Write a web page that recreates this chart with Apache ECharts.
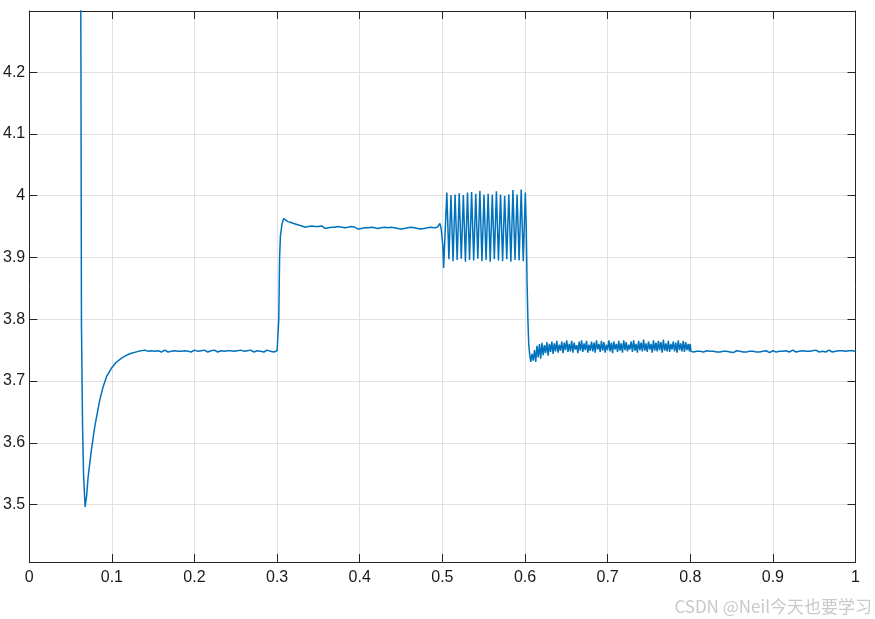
<!DOCTYPE html>
<html>
<head>
<meta charset="utf-8">
<script src="https://cdn.jsdelivr.net/npm/echarts@6/dist/echarts.min.js"></script>
<style>html,body{margin:0;padding:0;background:#fff}#c{width:875px;height:619px}</style>
</head>
<body>
<div id="c"></div>
<script>
// ---- axis ticks ----
const xTicks = [0, 0.1, 0.2, 0.3, 0.4, 0.5, 0.6, 0.7, 0.8, 0.9, 1];
const yTicks = [3.5, 3.6, 3.7, 3.8, 3.9, 4.0, 4.1, 4.2];
const xRange = [0, 1];
const yRange = [3.407, 4.299];

// ---- start-up transient [t, v] ----
const startupPoints = [
  [0.0621, 4.45], [0.0626, 4.20], [0.0632, 3.79], [0.0645, 3.63], [0.0657, 3.55],
  [0.0676, 3.496], [0.0695, 3.515], [0.0713, 3.545], [0.0752, 3.588], [0.0793, 3.626],
  [0.0853, 3.669], [0.0893, 3.690], [0.0935, 3.707], [0.0996, 3.721], [0.1050, 3.730],
  [0.1117, 3.737], [0.1180, 3.742], [0.1238, 3.745], [0.1320, 3.748], [0.1399, 3.750]
];

// ---- steady 3.75 V, sampled every 2 ms from t = 0.142 ----
const seg1Start = 0.142, seg1Step = 0.002;
const seg1Values = [
  3.749,3.748,3.750,3.749,3.747,3.748,3.750,3.749,3.748,3.747,
  3.749,3.750,3.748,3.747,3.749,3.748,3.750,3.749,3.747,3.748,
  3.749,3.748,3.747,3.749,3.750,3.748,3.749,3.747,3.748,3.750,
  3.749,3.748,3.747,3.749,3.748,3.750,3.749,3.747,3.748,3.749,
  3.748,3.750,3.749,3.747,3.748,3.749,3.750,3.748,3.747,3.749,
  3.748,3.749,3.750,3.748,3.747,3.749,3.748,3.750,3.749,3.748,
  3.747,3.749,3.748,3.750,3.749,3.747,3.748,3.749,3.750,3.748,
  3.749,3.747,3.748,3.750,3.749,3.748,3.749,3.747,3.748,3.749
];

// ---- step up at 0.3 s [t, v] ----
const stepUpPoints = [
  [0.3010, 3.752], [0.3020, 3.800], [0.3030, 3.900], [0.3040, 3.935], [0.3060, 3.955],
  [0.3080, 3.963], [0.3100, 3.961], [0.3130, 3.958], [0.3160, 3.957], [0.3200, 3.955],
  [0.3250, 3.953], [0.3300, 3.951]
];

// ---- steady 3.95 V, sampled every 2 ms from t = 0.332 ----
const seg2Start = 0.332, seg2Step = 0.002;
const seg2Values = [
  3.951,3.949,3.952,3.950,3.948,3.951,3.949,3.950,3.947,3.950,
  3.948,3.951,3.949,3.947,3.950,3.948,3.951,3.949,3.946,3.949,
  3.948,3.950,3.947,3.949,3.951,3.948,3.946,3.949,3.948,3.950,
  3.947,3.949,3.948,3.946,3.949,3.947,3.950,3.948,3.946,3.948,
  3.947,3.949,3.946,3.948,3.950,3.947,3.945,3.948,3.947,3.949,
  3.946,3.948,3.947,3.949,3.946,3.948,3.950,3.947,3.949,3.946,
  3.948,3.947,3.950,3.948,3.946,3.949,3.947,3.948,3.950,3.947,
  3.949,3.946,3.948,3.947,3.950,3.948,3.946,3.949,3.947,3.948,
  3.946,3.949,3.947
];

// ---- entry into oscillation [t, v] ----
const oscEntryPoints = [
  [0.4970, 3.955], [0.4985, 3.947], [0.4995, 3.948], [0.5005, 3.920], [0.5015, 3.883]
];

// ---- oscillation 0.5 - 0.6 s: alternating peak / trough every 2.5 ms from t = 0.5054 ----
const oscStart = 0.5054, oscHalfPeriod = 0.0025;
const oscPeaks = [4.005,4.001,4.002,4.004,4.001,4.005,4.006,4.003,4.008,4.002,
                  4.003,4.002,4.007,4.002,4.000,4.002,4.009,4.002,4.010,4.005];
const oscTroughs = [3.897,3.894,3.896,3.898,3.893,3.896,3.895,3.898,3.894,3.896,
                    3.893,3.897,3.895,3.894,3.897,3.893,3.896,3.895,3.894];

// ---- step down at 0.6 s [t, v] ----
const stepDownPoints = [
  [0.6015, 3.950], [0.6025, 3.860], [0.6035, 3.800], [0.6045, 3.760], [0.6055, 3.745],
  [0.6070, 3.731]
];

// ---- noisy 3.756 V band, sampled every 1.5 ms from t = 0.6085 ----
const seg3Start = 0.6085, seg3Step = 0.0015;
const seg3Values = [
  3.744,3.733,3.750,3.731,3.757,3.738,3.760,3.736,3.762,3.742,
  3.758,3.745,3.763,3.741,3.760,3.747,3.764,3.744,3.761,3.748,
  3.765,3.746,3.759,3.749,3.764,3.745,3.762,3.750,3.766,3.747,
  3.760,3.748,3.765,3.746,3.762,3.751,3.758,3.745,3.764,3.749,
  3.766,3.747,3.761,3.750,3.765,3.746,3.759,3.749,3.764,3.748,
  3.762,3.746,3.766,3.751,3.760,3.747,3.765,3.749,3.763,3.746,
  3.759,3.750,3.766,3.748,3.762,3.745,3.764,3.751,3.760,3.747,
  3.765,3.749,3.761,3.746,3.766,3.750,3.763,3.748,3.759,3.751,
  3.764,3.747,3.766,3.749,3.760,3.746,3.765,3.750,3.762,3.748,
  3.767,3.749,3.761,3.747,3.764,3.751,3.760,3.746,3.766,3.749,
  3.762,3.748,3.765,3.750,3.763,3.746,3.767,3.749,3.761,3.748,
  3.765,3.747,3.760,3.751,3.764,3.748,3.762,3.746,3.766,3.750,
  3.761,3.748,3.765,3.747,3.763,3.750,3.760,3.748
];

// ---- settle at 0.8 s [t, v] ----
const settlePoints = [[0.8000, 3.760], [0.8008, 3.748]];

// ---- steady 3.75 V, sampled every 2 ms from t = 0.802 ----
const seg4Start = 0.802, seg4Step = 0.002;
const seg4Values = [
  3.748,3.747,3.749,3.748,3.747,3.748,3.749,3.747,3.748,3.749,
  3.747,3.748,3.746,3.748,3.749,3.747,3.748,3.747,3.749,3.748,
  3.747,3.748,3.749,3.747,3.748,3.746,3.748,3.749,3.747,3.748,
  3.749,3.747,3.748,3.747,3.749,3.748,3.746,3.748,3.749,3.747,
  3.748,3.747,3.749,3.748,3.747,3.749,3.748,3.746,3.748,3.749,
  3.748,3.747,3.749,3.748,3.750,3.748,3.747,3.749,3.748,3.747,
  3.749,3.750,3.748,3.747,3.749,3.748,3.750,3.749,3.747,3.748,
  3.749,3.748,3.747,3.749,3.748,3.750,3.748,3.747,3.749,3.748,
  3.749,3.747,3.748,3.750,3.749,3.747,3.749,3.748,3.750,3.749,
  3.747,3.749,3.751,3.748,3.750,3.749,3.747,3.749,3.750,3.748
];

const watermark = 'CSDN @Neil今天也要学习';

// ---- assemble series from the arrays ----
function sampled(start, step, values) {
  return values.map((v, i) => [+(start + i * step).toFixed(5), v]);
}
const oscValues = [];
oscPeaks.forEach((p, i) => { oscValues.push(p); if (i < oscTroughs.length) oscValues.push(oscTroughs[i]); });

const lineData = [].concat(
  startupPoints,
  sampled(seg1Start, seg1Step, seg1Values),
  stepUpPoints,
  sampled(seg2Start, seg2Step, seg2Values),
  oscEntryPoints,
  sampled(oscStart, oscHalfPeriod, oscValues),
  stepDownPoints,
  sampled(seg3Start, seg3Step, seg3Values),
  settlePoints,
  sampled(seg4Start, seg4Step, seg4Values)
);

const FONT = '"Liberation Sans", Arial, Helvetica, sans-serif';
const AX = '#262626';
const GRIDC = '#e1e1e1';
const fmtX = v => (Math.abs(v - 1) < 1e-9 ? '1' : (Math.abs(v) < 1e-9 ? '0' : (+v.toFixed(1)).toString()));
const fmtY = v => (+v.toFixed(1)).toString();

const chart = echarts.init(document.getElementById('c'), null, { renderer: 'canvas' });
chart.setOption({
  animation: false,
  backgroundColor: '#ffffff',
  grid: { left: 27.5, top: 11, width: 828, height: 551, containLabel: false },
  xAxis: [
    {
      type: 'value', min: xRange[0], max: xRange[1], interval: 0.1, position: 'bottom',
      axisLine: { show: true, onZero: false, lineStyle: { color: AX, width: 1 } },
      axisTick: { show: true, inside: true, length: 8, lineStyle: { color: AX, width: 1 } },
      axisLabel: { show: true, color: '#1a1a1a', fontSize: 16, fontFamily: FONT, margin: 8, formatter: fmtX, showMinLabel: true, showMaxLabel: true },
      splitLine: { show: true, lineStyle: { color: GRIDC, width: 1 } }
    },
    {
      type: 'value', min: xRange[0], max: xRange[1], interval: 0.1, position: 'top',
      axisLine: { show: true, onZero: false, lineStyle: { color: AX, width: 1 } },
      axisTick: { show: true, inside: true, length: 8, lineStyle: { color: AX, width: 1 } },
      axisLabel: { show: false },
      splitLine: { show: false }
    }
  ],
  yAxis: [
    {
      type: 'value', min: yRange[0], max: yRange[1], position: 'left',
      axisLine: { show: true, onZero: false, lineStyle: { color: AX, width: 1 } },
      axisTick: { show: true, inside: true, length: 8, lineStyle: { color: AX, width: 1 }, customValues: yTicks },
      axisLabel: { show: true, color: '#1a1a1a', fontSize: 16, fontFamily: FONT, margin: 4, formatter: fmtY, customValues: yTicks },
      splitLine: { show: true, lineStyle: { color: GRIDC, width: 1 } }
    },
    {
      type: 'value', min: yRange[0], max: yRange[1], position: 'right',
      axisLine: { show: true, onZero: false, lineStyle: { color: AX, width: 1 } },
      axisTick: { show: true, inside: true, length: 8, lineStyle: { color: AX, width: 1 }, customValues: yTicks },
      axisLabel: { show: false, customValues: yTicks },
      splitLine: { show: false }
    }
  ],
  series: [{
    type: 'line',
    data: lineData,
    xAxisIndex: 0, yAxisIndex: 0,
    showSymbol: false,
    symbol: 'none',
    clip: true,
    sampling: null,
    lineStyle: { color: '#0072BD', width: 1.5 },
    emphasis: { disabled: true }
  }],
  graphic: [{
    type: 'text', right: 3, bottom: 4, silent: true,
    style: { text: watermark, fill: '#c9c9c9', font: '17px "Noto Sans CJK SC", sans-serif' }
  }]
});
</script>
</body>
</html>
